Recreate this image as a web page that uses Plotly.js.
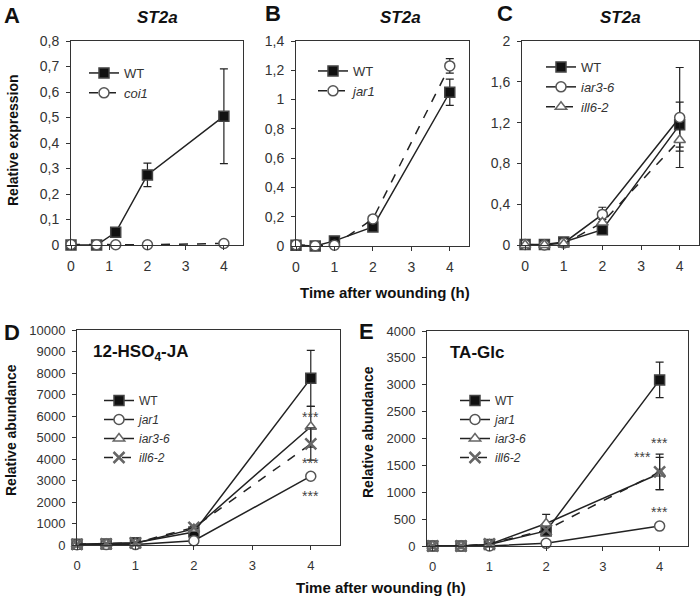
<!DOCTYPE html>
<html>
<head>
<meta charset="utf-8">
<script src="https://cdn.plot.ly/plotly-3.0.1.min.js"></script>
<style>html,body{margin:0;padding:0;background:#fff}</style>
</head>
<body>
<div id="chart" style="width:700px;height:599px"></div>
<script>
// time points (h); panel A was plotted with shifted early points
const timeA = [0, 0.67, 1.17, 2, 4];
const time = [0, 0.5, 1, 2, 4];

// A: ST2a, WT vs coi1
const aWT = [0, 0, 0.05, 0.275, 0.505];
const aWTerr = [0, 0, 0, 0.046, 0.186];
const aCoi1 = [0.002, 0.001, 0.001, 0.001, 0.006];

// B: ST2a, WT vs jar1
const bWT = [0.005, 0, 0.035, 0.13, 1.05];
const bWTerr = [0, 0, 0, 0.01, 0.09];
const bJar1 = [0.008, 0.002, 0.005, 0.185, 1.23];
const bJar1err = [0, 0, 0, 0.01, 0.05];

// C: ST2a, WT vs iar3-6 vs ill6-2
const cWT = [0.005, 0.005, 0.03, 0.15, 1.18];
const cWTerr = [0, 0, 0, 0.02, 0.22];
const cIar = [0.005, 0, 0.02, 0.3, 1.25];
const cIarErr = [0, 0, 0, 0.07, 0.49];
const cIll = [0, 0, 0.01, 0.22, 1.03];
const cIllErr = [0, 0, 0, 0.03, 0.11];

// D: 12-HSO4-JA
const dWT = [30, 50, 100, 600, 7750];
const dWTerr = [0, 0, 0, 80, 1300];
const dJar1 = [10, 20, 20, 200, 3200];
const dIar = [20, 50, 80, 750, 5500];
const dIarErr = [0, 0, 0, 60, 950];
const dIll = [30, 50, 100, 820, 4700];
const dIllErr = [0, 0, 0, 60, 750];
const dStars = [5950, 3800, 2280];

// E: TA-Glc
const eWT = [0, 0, 30, 280, 3090];
const eWTerr = [0, 0, 0, 60, 330];
const eJar1 = [0, 0, 0, 50, 370];
const eIar = [0, 0, 30, 420, 1350];
const eIarErr = [0, 0, 0, 170, 300];
const eIll = [0, 0, 40, 300, 1380];
const eIllErr = [0, 0, 0, 40, 330];
const eStars = [[4, 1920], [3.7, 1650], [4, 630]];

const FONT = 'Liberation Sans, Arial, sans-serif';
const INK = '#222';

const styles = {
  wt:   {symbol: 'square', fill: '#111', lc: '#444'},
  circ: {symbol: 'circle', fill: '#fff', lc: '#555'},
  tri:  {symbol: 'triangle-up', fill: '#fff', lc: '#666'},
  x:    {symbol: 'x-thin', fill: '#666', lc: '#666'}
};

function series(x, y, err, name, st, dash, n, legend) {
  const s = styles[st];
  return {
    x: x, y: y, name: name, type: 'scatter', mode: 'lines+markers',
    xaxis: 'x' + (n > 1 ? n : ''), yaxis: 'y' + (n > 1 ? n : ''),
    legend: legend, cliponaxis: false,
    line: {color: INK, width: 1.5, dash: dash},
    marker: {symbol: s.symbol, size: st === 'x' ? 11 : 10, color: s.fill,
             line: {color: s.lc, width: st === 'x' ? 2.5 : 1.5}},
    error_y: err ? {type: 'data', array: err, visible: true, color: INK, thickness: 1.2, width: 4} : undefined
  };
}

const data = [
  series(timeA, aWT, aWTerr, 'WT', 'wt', 'solid', 1, 'legend'),
  series(timeA, aCoi1, null, '<i>coi1</i>', 'circ', 'dash', 1, 'legend'),
  series(time, bWT, bWTerr, 'WT', 'wt', 'solid', 2, 'legend2'),
  series(time, bJar1, bJar1err, '<i>jar1</i>', 'circ', 'dash', 2, 'legend2'),
  series(time, cWT, cWTerr, 'WT', 'wt', 'solid', 3, 'legend3'),
  series(time, cIar, cIarErr, '<i>iar3-6</i>', 'circ', 'solid', 3, 'legend3'),
  series(time, cIll, cIllErr, '<i>ill6-2</i>', 'tri', 'dash', 3, 'legend3'),
  series(time, dWT, dWTerr, 'WT', 'wt', 'solid', 4, 'legend4'),
  series(time, dJar1, null, '<i>jar1</i>', 'circ', 'solid', 4, 'legend4'),
  series(time, dIar, dIarErr, '<i>iar3-6</i>', 'tri', 'solid', 4, 'legend4'),
  series(time, dIll, dIllErr, '<i>ill6-2</i>', 'x', 'dash', 4, 'legend4'),
  series(time, eWT, eWTerr, 'WT', 'wt', 'solid', 5, 'legend5'),
  series(time, eJar1, null, '<i>jar1</i>', 'circ', 'solid', 5, 'legend5'),
  series(time, eIar, eIarErr, '<i>iar3-6</i>', 'tri', 'solid', 5, 'legend5'),
  series(time, eIll, eIllErr, '<i>ill6-2</i>', 'x', 'dash', 5, 'legend5')
];

const W = 700, H = 599;
const px = v => v / W;
const py = v => 1 - v / H;

function xaxis(l, r, lo, size, anchor) {
  return {domain: [px(l), px(r)], range: [lo, 4.5], dtick: 1, tick0: 0, anchor: anchor,
    showline: true, mirror: true, linecolor: '#333', linewidth: 1, showgrid: false, zeroline: false,
    ticks: 'outside', ticklen: 4, tickcolor: '#333', ticklabelstandoff: 4,
    tickfont: {family: FONT, size: size, color: '#333'}};
}
function yaxis(t, b, top, dtick, size, anchor, fmt) {
  return {domain: [py(b), py(t)], range: [0, top], dtick: dtick, tick0: 0, anchor: anchor,
    showline: true, mirror: true, linecolor: '#333', linewidth: 1, showgrid: false, zeroline: false,
    ticks: 'outside', ticklen: 4, tickcolor: '#333', ticklabelstandoff: 4, tickformat: fmt,
    tickfont: {family: FONT, size: size, color: '#333'}};
}
function legend(x, y, size) {
  return {x: px(x), y: py(y), xanchor: 'left', yanchor: 'top', bgcolor: 'rgba(0,0,0,0)',
    font: {family: FONT, size: size, color: '#333'}, itemwidth: 30, tracegroupgap: 0};
}

const annotations = [];
function label(text, x, y, size, extra) {
  annotations.push(Object.assign({text: text, x: px(x), y: py(y), xref: 'paper', yref: 'paper',
    xanchor: 'center', yanchor: 'middle', showarrow: false,
    font: {family: FONT, size: size, color: '#111'}}, extra || {}));
}
label('<b>A</b>', 12, 15, 22);
label('<b>B</b>', 273, 13, 22);
label('<b>C</b>', 505, 13, 22);
label('<b>D</b>', 12, 332, 22);
label('<b>E</b>', 367, 331, 22);
label('<b><i>ST2a</i></b>', 157, 18, 17);
label('<b><i>ST2a</i></b>', 400, 18, 17);
label('<b><i>ST2a</i></b>', 620, 18, 17);
label('<b>12-HSO<sub>4</sub>-JA</b>', 140, 353, 17);
label('<b>TA-Glc</b>', 477, 352, 17);
label('<b>Time after wounding (h)</b>', 385, 292, 15);
label('<b>Time after wounding (h)</b>', 381, 587, 15);
label('<b>Relative expression</b>', 13, 140, 14, {textangle: -90});
label('<b>Relative abundance</b>', 11, 430, 14, {textangle: -90});
label('<b>Relative abundance</b>', 368, 432, 14, {textangle: -90});

dStars.forEach(v => annotations.push({text: '***', x: 4, y: v, xref: 'x4', yref: 'y4', showarrow: false,
  font: {family: FONT, size: 14, color: '#444'}}));
eStars.forEach(p => annotations.push({text: '***', x: p[0], y: p[1], xref: 'x5', yref: 'y5', showarrow: false,
  font: {family: FONT, size: 14, color: '#444'}}));

const layout = {
  width: W, height: H, margin: {l: 0, r: 0, t: 0, b: 0},
  paper_bgcolor: '#fff', plot_bgcolor: '#fff', separators: ', ',
  font: {family: FONT, color: '#333'},
  xaxis: xaxis(71, 243, 0, 14, 'y'),
  yaxis: yaxis(41, 245, 0.8, 0.1, 14, 'x'),
  xaxis2: xaxis(296, 469, 0, 14, 'y2'),
  yaxis2: yaxis(41, 246, 1.4, 0.2, 14, 'x2'),
  xaxis3: xaxis(522, 699, -0.08, 14, 'y3'),
  yaxis3: yaxis(41, 245, 2, 0.4, 14, 'x3'),
  xaxis4: xaxis(77, 340, 0, 13, 'y4'),
  yaxis4: yaxis(330, 545, 10000, 1000, 13, 'x4', 'd'),
  xaxis5: xaxis(427, 688, -0.1, 13, 'y5'),
  yaxis5: yaxis(331, 546, 4000, 500, 13, 'x5', 'd'),
  legend: legend(84, 58, 13),
  legend2: legend(313, 56, 13),
  legend3: legend(541, 52, 13),
  legend4: legend(99, 386, 12),
  legend5: legend(455, 386, 12),
  showlegend: true,
  annotations: annotations
};

Plotly.newPlot('chart', data, layout, {displayModeBar: false, staticPlot: true});
</script>
</body>
</html>
